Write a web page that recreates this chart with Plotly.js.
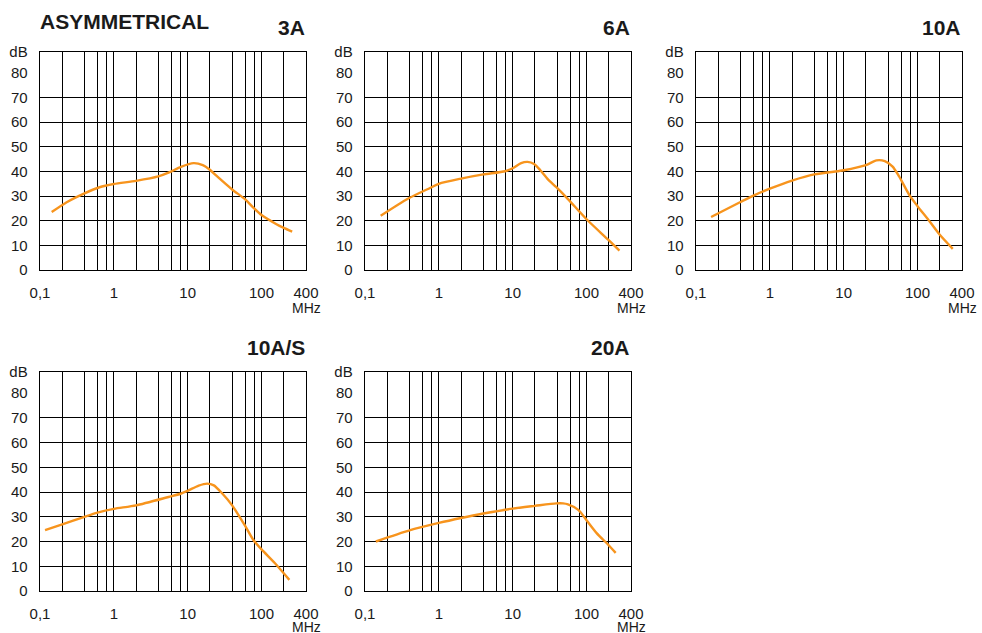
<!DOCTYPE html>
<html>
<head>
<meta charset="utf-8">
<script src="https://cdn.plot.ly/plotly-3.0.1.min.js"></script>
<style>html,body{margin:0;padding:0;background:#fff;}#chart{width:982px;height:633px;}</style>
</head>
<body>
<div id="chart"></div>
<script>
// ---- data (frequency in MHz, attenuation in dB) ----
const panelTitles = ['3A', '6A', '10A', '10A/S', '20A'];
const mainTitle = 'ASYMMETRICAL';

const f3A  = [0.144, 0.23, 0.4, 0.64, 1, 2, 4, 5.6, 8.1, 12, 16, 20, 24, 40, 60, 80, 100, 157, 200, 260];
const db3A = [23.5, 27.5, 31.1, 33.6, 34.9, 36.2, 38, 39.6, 41.9, 43.4, 42.6, 40.7, 38.5, 32.7, 28.7, 24.9, 22.3, 18.7, 17.1, 15.6];

const f6A  = [0.163, 0.386, 0.76, 1, 2, 4, 7.9, 10, 13, 15.9, 19.5, 23.5, 30, 39, 56, 100, 198, 279];
const db6A = [22.0, 29, 33.3, 35, 37.1, 38.8, 40.1, 41.3, 43.4, 43.9, 43, 40.6, 36.8, 33.6, 28.8, 20.6, 12.2, 7.9];

const f10A  = [0.16, 0.4, 0.6, 1, 2, 4, 8.2, 10, 20, 27.8, 36, 46, 56, 78, 100, 146, 200, 300];
const db10A = [21.5, 27.6, 30.2, 33, 36.3, 38.8, 40.1, 40.5, 42.6, 44.5, 44.2, 42.0, 38.1, 30.3, 25.9, 19.7, 14.3, 8.6];

const f10AS  = [0.117, 0.2, 0.4, 0.6, 1, 2, 5.5, 8, 10, 14.1, 18.4, 22.6, 29, 40, 60, 78, 100, 152, 238];
const db10AS = [24.6, 26.9, 30.0, 31.7, 33.2, 34.6, 38.0, 39.3, 40.5, 42.6, 43.4, 42.7, 39.6, 34.6, 26.3, 20.5, 16.8, 11.2, 4.5];

const f20A  = [0.14, 0.4, 1, 2, 4, 10, 20, 39, 48, 56, 78, 100, 137, 198, 248];
const db20A = [20, 24.5, 27.5, 29.5, 31.3, 33.3, 34.4, 35.4, 35.4, 35, 32.7, 28.6, 23.4, 18.6, 15.4];

const xTickVals = [0.1, 1, 10, 100, 400];
const xTickText = ['0,1', '1', '10', '100', '400'];
const xGridVals = [0.2, 0.4, 0.6, 0.8, 2, 4, 6, 8, 20, 40, 60, 80, 200];
const yTickVals = [0, 10, 20, 30, 40, 50, 60, 70, 80, 88.5];
const yTickText = ['0', '10', '20', '30', '40', '50', '60', '70', '80', 'dB'];
const yGridVals = [10, 20, 30, 40, 50, 60, 70];
const xUnit = 'MHz';

// ---- layout ----
const W = 982, H = 633;
const series = [[f3A, db3A], [f6A, db6A], [f10A, db10A], [f10AS, db10AS], [f20A, db20A]];
const boxes = [ // left, right, top, bottom in px
  [40, 306, 52, 270],
  [365, 631, 52, 270],
  [696, 962, 52, 270],
  [40, 306, 372, 591],
  [365, 631, 372, 591]
];
const font = 'Liberation Sans, Arial, Helvetica, sans-serif';
const orange = '#F7941D';
const ink = '#1a1a1a';

const data = [];
const layout = {
  width: W, height: H,
  margin: {l: 0, r: 0, t: 0, b: 0},
  paper_bgcolor: '#fff', plot_bgcolor: '#fff',
  showlegend: false,
  font: {family: font, color: ink, size: 15},
  annotations: [{
    text: '<b>' + mainTitle + '</b>', xref: 'paper', yref: 'paper',
    x: 38 / W, y: 1 - 21.5 / H, xanchor: 'left', yanchor: 'middle',
    showarrow: false, font: {family: font, size: 21, color: ink}
  }]
};

series.forEach((s, i) => {
  const n = i + 1;
  const xa = n === 1 ? 'xaxis' : 'xaxis' + n;
  const ya = n === 1 ? 'yaxis' : 'yaxis' + n;
  const xr = n === 1 ? 'x' : 'x' + n;
  const yr = n === 1 ? 'y' : 'y' + n;
  const b = boxes[i];
  data.push({
    x: s[0], y: s[1], type: 'scatter', mode: 'lines',
    xaxis: xr, yaxis: yr,
    line: {color: orange, width: 2.4, shape: 'spline', smoothing: 0.7},
    hoverinfo: 'skip'
  });
  layout[xa] = {
    type: 'log', range: [Math.log10(0.1), Math.log10(400)],
    domain: [b[0] / W, b[1] / W], anchor: yr,
    tickmode: 'array', tickvals: xTickVals, ticktext: xTickText,
    ticks: '', ticklabelstandoff: 9,
    showgrid: true, gridcolor: '#000', gridwidth: 1,
    minor: {tickmode: 'array', tickvals: xGridVals, showgrid: true, gridcolor: '#000', gridwidth: 1, ticks: ''},
    showline: true, linecolor: '#000', linewidth: 1.3, mirror: true,
    zeroline: false, tickfont: {family: font, size: 15, color: ink},
    fixedrange: true
  };
  layout[ya] = {
    range: [0, 88.5], domain: [1 - b[3] / H, 1 - b[2] / H], anchor: xr,
    tickmode: 'array', tickvals: yTickVals, ticktext: yTickText,
    ticks: '', ticklabelstandoff: 8,
    showgrid: false,
    minor: {tickmode: 'array', tickvals: yGridVals, showgrid: true, gridcolor: '#000', gridwidth: 1, ticks: ''},
    showline: true, linecolor: '#000', linewidth: 1.3, mirror: true,
    zeroline: false, tickfont: {family: font, size: 15, color: ink},
    fixedrange: true
  };
  layout.annotations.push({
    text: '<b>' + panelTitles[i] + '</b>', xref: 'paper', yref: 'paper',
    x: (b[1] + 1) / W, y: 1 - (b[2] - 24.5) / H, xanchor: 'right', yanchor: 'middle',
    showarrow: false, font: {family: font, size: 21, color: ink}
  });
  layout.annotations.push({
    text: xUnit, xref: xr, yref: 'paper',
    x: Math.log10(400), y: 1 - Math.min(b[3] + 38, 626.5) / H, xanchor: 'center', yanchor: 'middle',
    showarrow: false, font: {family: font, size: 14, color: ink}
  });
});

Plotly.newPlot('chart', data, layout, {displayModeBar: false, staticPlot: true});
</script>
</body>
</html>
